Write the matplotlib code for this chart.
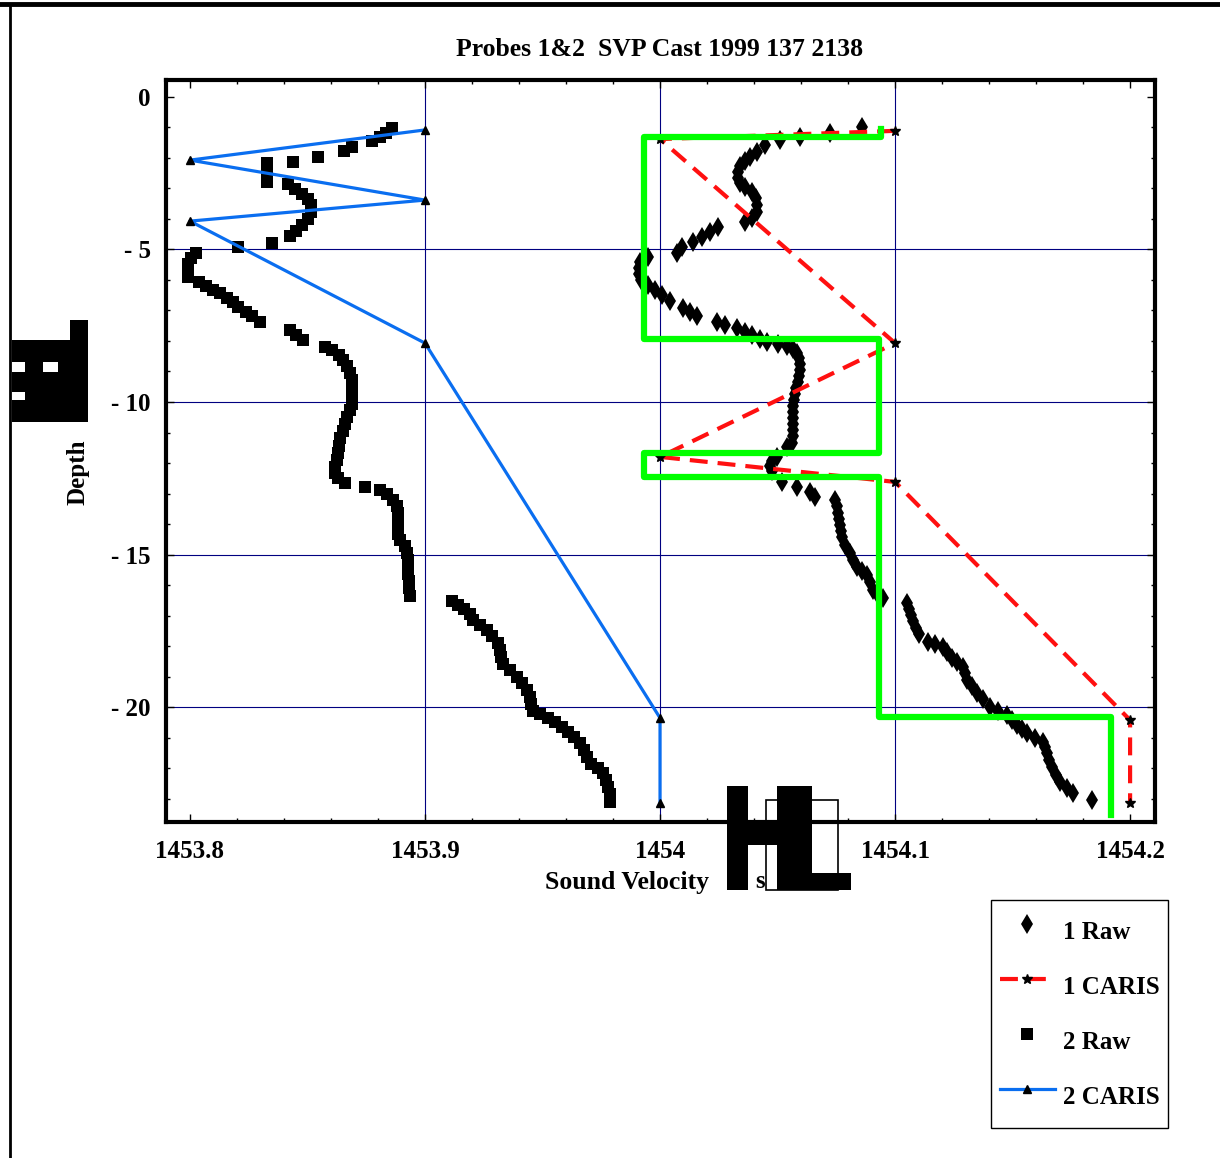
import matplotlib
matplotlib.use('Agg')
import matplotlib.pyplot as plt
from matplotlib.patches import Rectangle
from matplotlib.lines import Line2D
from matplotlib.ticker import MultipleLocator

plt.rcParams['font.family'] = ['Liberation Serif', 'DejaVu Serif']
plt.rcParams['font.weight'] = 'bold'

# probe 1, raw cast
raw1_vel = [1454.0860, 1454.0723, 1454.0596, 1454.0511, 1454.0447, 1454.0413, 1454.0383, 1454.0362,
            1454.0340, 1454.0332, 1454.0332, 1454.0340, 1454.0362, 1454.0391, 1454.0409, 1454.0413,
            1454.0413, 1454.0391, 1454.0362, 1454.0247, 1454.0213, 1454.0179, 1454.0140, 1454.0094,
            1454.0072, 1453.9949, 1453.9915, 1453.9911, 1453.9911, 1453.9919, 1453.9949, 1453.9979,
            1454.0009, 1454.0043, 1454.0098, 1454.0128, 1454.0157, 1454.0243, 1454.0277, 1454.0328,
            1454.0362, 1454.0391, 1454.0426, 1454.0455, 1454.0502, 1454.0540, 1454.0566, 1454.0583,
            1454.0591, 1454.0596, 1454.0596, 1454.0591, 1454.0587, 1454.0579, 1454.0574, 1454.0570,
            1454.0566, 1454.0566, 1454.0566, 1454.0566, 1454.0566, 1454.0566, 1454.0562, 1454.0540,
            1454.0498, 1454.0477, 1454.0468, 1454.0477, 1454.0519, 1454.0583, 1454.0638, 1454.0660,
            1454.0745, 1454.0753, 1454.0757, 1454.0762, 1454.0766, 1454.0770, 1454.0774, 1454.0787,
            1454.0809, 1454.0821, 1454.0838, 1454.0860, 1454.0881, 1454.0894, 1454.0906, 1454.0928,
            1454.0949, 1454.1051, 1454.1060, 1454.1068, 1454.1077, 1454.1089, 1454.1102, 1454.1140,
            1454.1170, 1454.1204, 1454.1221, 1454.1243, 1454.1264, 1454.1289, 1454.1298, 1454.1306,
            1454.1328, 1454.1349, 1454.1374, 1454.1404, 1454.1438, 1454.1477, 1454.1498, 1454.1519,
            1454.1540, 1454.1562, 1454.1596, 1454.1630, 1454.1638, 1454.1647, 1454.1655, 1454.1668,
            1454.1685, 1454.1702, 1454.1732, 1454.1757, 1454.1838]
raw1_depth = [-0.98, -1.18, -1.31, -1.41, -1.57, -1.80, -1.97, -2.10, -2.26, -2.46, -2.66, -2.82,
              -2.95, -3.11, -3.31, -3.54, -3.77, -3.97, -4.10, -4.26, -4.43, -4.59, -4.75, -4.92,
              -5.11, -5.25, -5.41, -5.61, -5.80, -6.00, -6.16, -6.33, -6.49, -6.69, -6.92, -7.05,
              -7.18, -7.38, -7.48, -7.57, -7.70, -7.80, -7.93, -8.03, -8.10, -8.16, -8.26, -8.39,
              -8.56, -8.75, -8.95, -9.15, -9.34, -9.54, -9.74, -9.93, -10.13, -10.33, -10.52, -10.72,
              -10.92, -11.11, -11.34, -11.48, -11.80, -11.93, -12.10, -12.26, -12.62, -12.79, -12.95,
              -13.11, -13.21, -13.41, -13.64, -13.84, -14.03, -14.23, -14.43, -14.69, -14.95, -15.18,
              -15.41, -15.54, -15.67, -15.90, -16.16, -16.33, -16.43, -16.59, -16.79, -16.98, -17.18,
              -17.41, -17.61, -17.87, -17.93, -18.03, -18.20, -18.39, -18.52, -18.69, -18.89, -19.11,
              -19.31, -19.54, -19.74, -20.00, -20.13, -20.26, -20.43, -20.59, -20.72, -20.85, -21.02,
              -21.15, -21.31, -21.51, -21.74, -21.97, -22.23, -22.46, -22.66, -22.82, -23.05]

# probe 1, CARIS profile
caris1_vel = [1454.1, 1454.0, 1454.1, 1454.0, 1454.1, 1454.2, 1454.2]
caris1_depth = [-1.11, -1.38, -8.07, -11.80, -12.62, -20.43, -23.15]

# probe 2, raw cast
raw2_vel = [1453.8860, 1453.8834, 1453.8809, 1453.8774, 1453.8689, 1453.8655, 1453.8545, 1453.8438,
            1453.8328, 1453.8328, 1453.8328, 1453.8328, 1453.8417, 1453.8447, 1453.8477, 1453.8502,
            1453.8515, 1453.8515, 1453.8502, 1453.8477, 1453.8451, 1453.8426, 1453.8349, 1453.8204,
            1453.8026, 1453.8004, 1453.7991, 1453.7991, 1453.7991, 1453.8038, 1453.8068, 1453.8098,
            1453.8128, 1453.8157, 1453.8183, 1453.8204, 1453.8238, 1453.8264, 1453.8298, 1453.8426,
            1453.8451, 1453.8481, 1453.8574, 1453.8604, 1453.8634, 1453.8651, 1453.8668, 1453.8681,
            1453.8689, 1453.8689, 1453.8689, 1453.8689, 1453.8681, 1453.8668, 1453.8660, 1453.8651,
            1453.8638, 1453.8634, 1453.8630, 1453.8626, 1453.8617, 1453.8617, 1453.8630, 1453.8660,
            1453.8745, 1453.8809, 1453.8838, 1453.8864, 1453.8881, 1453.8885, 1453.8885, 1453.8885,
            1453.8885, 1453.8894, 1453.8915, 1453.8923, 1453.8928, 1453.8928, 1453.8928, 1453.8932,
            1453.8932, 1453.8936, 1453.9115, 1453.9140, 1453.9166, 1453.9191, 1453.9204, 1453.9234,
            1453.9264, 1453.9285, 1453.9311, 1453.9319, 1453.9323, 1453.9332, 1453.9362, 1453.9391,
            1453.9413, 1453.9434, 1453.9447, 1453.9451, 1453.9460, 1453.9489, 1453.9523, 1453.9553,
            1453.9583, 1453.9609, 1453.9634, 1453.9660, 1453.9677, 1453.9689, 1453.9706, 1453.9736,
            1453.9757, 1453.9770, 1453.9779, 1453.9787, 1453.9787]
raw2_depth = [-1.02, -1.18, -1.31, -1.44, -1.64, -1.77, -1.97, -2.13, -2.16, -2.39, -2.62, -2.79,
              -2.85, -3.02, -3.18, -3.34, -3.54, -3.77, -4.00, -4.20, -4.39, -4.56, -4.79, -4.92,
              -5.11, -5.28, -5.48, -5.67, -5.90, -6.07, -6.20, -6.33, -6.43, -6.59, -6.72, -6.89,
              -7.05, -7.18, -7.38, -7.64, -7.80, -7.97, -8.20, -8.30, -8.46, -8.62, -8.82, -9.05,
              -9.28, -9.54, -9.80, -10.07, -10.26, -10.49, -10.72, -10.95, -11.18, -11.44, -11.67,
              -11.90, -12.13, -12.33, -12.49, -12.66, -12.79, -12.89, -13.02, -13.21, -13.41, -13.64,
              -13.87, -14.10, -14.33, -14.52, -14.72, -14.95, -15.18, -15.41, -15.64, -15.87, -16.10,
              -16.36, -16.52, -16.66, -16.79, -16.95, -17.15, -17.31, -17.48, -17.67, -17.90, -18.13,
              -18.36, -18.59, -18.79, -19.02, -19.21, -19.44, -19.67, -19.90, -20.13, -20.23, -20.36,
              -20.49, -20.66, -20.82, -20.98, -21.18, -21.41, -21.64, -21.87, -22.00, -22.16, -22.39,
              -22.62, -22.85, -23.11]

# probe 2, CARIS profile
caris2_vel = [1453.9, 1453.8, 1453.9, 1453.8, 1453.9, 1454.0, 1454.0]
caris2_depth = [-1.08, -2.07, -3.38, -4.07, -8.07, -20.36, -23.15]

# green step profile (no legend entry)
step_vel = [1454.094, 1454.094, 1453.993, 1453.993, 1454.093, 1454.093, 1453.993, 1453.993,
            1454.093, 1454.093, 1454.192, 1454.192]
step_depth = [-1.05, -1.31, -1.31, -7.93, -7.93, -11.67, -11.67, -12.46, -12.46, -20.33, -20.33, -23.54]

xticks = [1453.8, 1453.9, 1454.0, 1454.1, 1454.2]
xticklabels = ['1453.8', '1453.9', '1454', '1454.1', '1454.2']
yticks = [0, -5, -10, -15, -20]
yticklabels = ['0', '- 5', '- 10', '- 15', '- 20']

W, H = 1220, 1158
fig = plt.figure(figsize=(W / 100, H / 100), dpi=100)
ax = fig.add_axes([166 / W, 1 - 822 / H, (1155 - 166) / W, (822 - 80) / H])

for v in xticks[1:-1]:
    ax.axvline(v, color='#000080', lw=0.8, zorder=1)
for d in yticks[1:]:
    ax.axhline(d, color='#000080', lw=0.8, zorder=1)

ax.plot(raw1_vel, raw1_depth, 'd', color='black', ms=10, mew=0, label='1 Raw', zorder=3)
ax.plot(caris1_vel, caris1_depth, color='#ff1010', lw=3, ls=(0, (4.3, 2.4)),
        marker='*', ms=7, mfc='black', mec='black', label='1 CARIS', zorder=4)
ax.plot(raw2_vel, raw2_depth, 's', color='black', ms=9, mew=0, label='2 Raw', zorder=3)
ax.plot(caris2_vel, caris2_depth, color='#0a6ef0', lw=2.3,
        marker='^', ms=6, mfc='black', mec='black', label='2 CARIS', zorder=4)
ax.plot(step_vel, step_depth, color='#00ff00', lw=4.5, zorder=5)

ax.set_xlim(1453.7898, 1454.2106)
ax.set_ylim(-23.77, 0.557)
ax.set_xticks(xticks)
ax.set_xticklabels(xticklabels)
ax.set_yticks(yticks)
ax.set_yticklabels(yticklabels)
ax.xaxis.set_minor_locator(MultipleLocator(0.02))
ax.yaxis.set_minor_locator(MultipleLocator(1))
ax.tick_params(which='both', direction='in', top=True, right=True, width=1, labelsize=18)
ax.tick_params(which='major', length=6)
ax.tick_params(which='minor', length=3)
ax.tick_params(axis='x', pad=13)
ax.tick_params(axis='y', pad=11)
for s in ax.spines.values():
    s.set_linewidth(3)

fig.text(660 / W, 1 - 50 / H, 'Probes 1&2  SVP Cast 1999 137 2138', ha='center', va='center',
         fontsize=18.5, fontweight='bold')
fig.text(545 / W, 1 - 883 / H, 'Sound Velocity', ha='left', va='center', fontsize=18.5, fontweight='bold')
fig.text(760 / W, 1 - 882 / H, 's', ha='center', va='center', fontsize=18, fontweight='bold')
fig.text(78 / W, 1 - 472 / H, 'Depth', ha='center', va='center', rotation=90, fontsize=18,
         fontweight='bold')


def px_box(x0, y0, x1, y1, **kw):
    return Rectangle((x0 / W, 1 - y1 / H), (x1 - x0) / W, (y1 - y0) / H,
                     transform=fig.transFigure, zorder=10, **kw)


# garbled unit glyphs of the x label
for b in [(727, 786, 748, 890), (748, 823, 777, 845), (777, 786, 812, 890), (812, 873, 851, 890)]:
    fig.add_artist(px_box(*b, facecolor='black', edgecolor='none'))
fig.add_artist(px_box(766, 800, 838, 890, facecolor='none', edgecolor='black', lw=1.2))

# garbled unit glyphs of the y label
fig.add_artist(px_box(12, 340, 88, 422, facecolor='black', edgecolor='none'))
fig.add_artist(px_box(70, 320, 88, 340, facecolor='black', edgecolor='none'))
for b in [(12, 362, 25, 372), (43, 362, 58, 372), (12, 392, 25, 400)]:
    fig.add_artist(px_box(*b, facecolor='white', edgecolor='none'))

# page frame lines
fig.add_artist(Line2D([0, 1], [1 - 4 / H, 1 - 4 / H], color='black', lw=3.5, transform=fig.transFigure))
fig.add_artist(Line2D([10 / W, 10 / W], [0, 1 - 4 / H], color='black', lw=2, transform=fig.transFigure))

leg = fig.legend(loc='upper left', bbox_to_anchor=(991 / W, 1 - 900 / H), fontsize=18,
                 frameon=True, fancybox=False, edgecolor='black', framealpha=1,
                 handlelength=2.2, handleheight=2.45, handletextpad=0.32, labelspacing=0.36,
                 borderpad=0.35, borderaxespad=0, numpoints=1)
leg.get_frame().set_linewidth(1)

fig.savefig('out.png', dpi=100)
